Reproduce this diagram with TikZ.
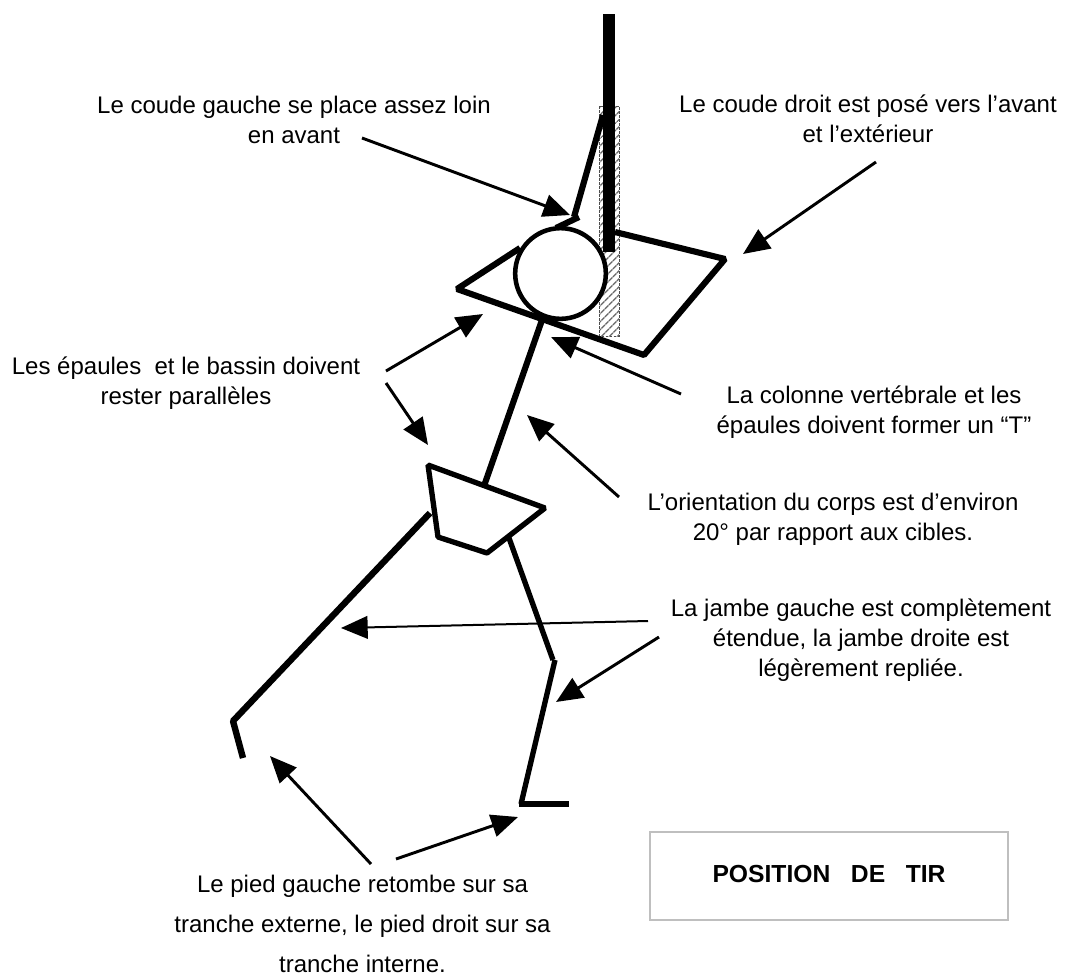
\documentclass[tikz,border=0pt]{standalone}
\usepackage{fontspec}
\setmainfont{Liberation Sans}
\usetikzlibrary{arrows.meta,patterns.meta}
\tikzset{
  body/.style={line width=4.6pt,line join=bevel,line cap=butt},
  bodythin/.style={line width=4pt,line join=bevel,line cap=butt},
  pointer/.style={line width=2.2pt,-{Triangle[length=20pt,width=17pt]}},
  label/.style={align=center,inner sep=0pt,anchor=base,font=\fontsize{18pt}{22.4pt}\selectfont},
  frame/.style={draw=black!25,line width=1.9pt}
}
\begin{document}
\begin{tikzpicture}[x=0.75pt,y=-0.75pt]
\useasboundingbox (0,0) rectangle (1067,976);
% named anchor points of the figure
\coordinate (rodT) at (609,14);
\coordinate (rodB) at (609,252);
\coordinate (hatchA) at (599.5,106);
\coordinate (hatchB) at (619,336);
\coordinate (head) at (560.5,273.5);
\coordinate (hand) at (603,115);
\coordinate (elbowL) at (574,217);
\coordinate (elbowEnd) at (579,217);
\coordinate (elbowIn) at (556,228);
\coordinate (shL) at (520,248);
\coordinate (shM) at (457,289);
\coordinate (shB) at (644,355);
\coordinate (shR) at (725,259);
\coordinate (shT) at (615,232);
\coordinate (spT) at (542,320);
\coordinate (spB) at (484,486);
\coordinate (peA) at (428,465);
\coordinate (peB) at (545,508);
\coordinate (peC) at (487,553);
\coordinate (peD) at (438,537);
\coordinate (legA) at (430,513);
\coordinate (legB) at (233,721);
\coordinate (legC) at (243,758);
\coordinate (rlA) at (509,538);
\coordinate (rlB) at (553,660);
\coordinate (rlC) at (555,660);
\coordinate (rlD) at (521,804);
\coordinate (ftA) at (519,804);
\coordinate (ftB) at (569,804);
% arrow ends
\coordinate (a1s) at (362,138); \coordinate (a1e) at (570,215);
\coordinate (a2s) at (876,162); \coordinate (a2e) at (743,254);
\coordinate (a3s) at (386,371); \coordinate (a3e) at (483,314);
\coordinate (a4s) at (386,383); \coordinate (a4e) at (428,445);
\coordinate (a5s) at (681,394); \coordinate (a5e) at (551,337);
\coordinate (a6s) at (619,497); \coordinate (a6e) at (527,415);
\coordinate (a7s) at (648,621); \coordinate (a7e) at (341,628);
\coordinate (a8s) at (659,637); \coordinate (a8e) at (556,702);
\coordinate (a9s) at (371,864); \coordinate (a9e) at (270,756);
\coordinate (a10s) at (396,859); \coordinate (a10e) at (518,817);
% figure
\draw[draw=black!70,line width=0.5pt,dash pattern=on 2pt off 1pt,
  pattern={Lines[angle=45,distance=4pt,line width=1.1pt]},pattern color=black!60]
  (hatchA) rectangle (hatchB);
\draw[body] (shL) -- (shM) -- (shB) -- (shR) -- (shT);
\draw[line width=9pt] (rodT) -- (rodB);
\draw[body] (hand) -- (elbowL);
\draw[body] (elbowEnd) -- (elbowIn);
\node[circle,draw,fill=white,line width=3.4pt,minimum size=68pt,inner sep=0pt] (headc) at (head) {};
\draw[body] (spT) -- (spB);
\draw[bodythin] (peA) -- (peB) -- (peC) -- (peD) -- cycle;
\draw[line width=4.8pt,line join=bevel] (legA) -- (legB) -- (legC);
\draw[bodythin] (rlA) -- (rlB);
\draw[bodythin] (rlC) -- (rlD);
\draw[bodythin] (ftA) -- (ftB);
% pointers
\foreach \n in {1,2,3,4,5,6,8,9,10} \draw[pointer] (a\n s) -- (a\n e);
\draw[pointer,line width=1.5pt] (a7s) -- (a7e);
% labels
\node[label] (t1) at (294,143.3) {Le coude gauche se place assez loin\\en avant};
\node[label] (t2) at (868,142.7) {Le coude droit est posé vers l’avant\\et l’extérieur};
\node[label] (t3) at (186,404) {Les épaules\ \ et le bassin doivent\\rester parallèles};
\node[label] (t4) at (874,433) {La colonne vertébrale et les\\épaules doivent former un “T”};
\node[label] (t5) at (833,540) {L’orientation du corps est d’environ\\20° par rapport aux cibles.};
\node[label] (t6) at (861,676) {La jambe gauche est complètement\\étendue, la jambe droite est\\légèrement repliée.};
\node[label,font=\fontsize{18pt}{30pt}\selectfont] (t7) at (362.5,972) {Le pied gauche retombe sur sa\\tranche externe, le pied droit sur sa\\tranche interne.};
\node[frame,minimum width=268.5pt,minimum height=66pt,inner sep=0pt,text height=13.5pt,text depth=4.5pt,font=\fontsize{18.5pt}{20pt}\selectfont\bfseries] (box) at (829,876) {POSITION\ \ \ DE\ \ \ TIR};
\end{tikzpicture}
\end{document}
